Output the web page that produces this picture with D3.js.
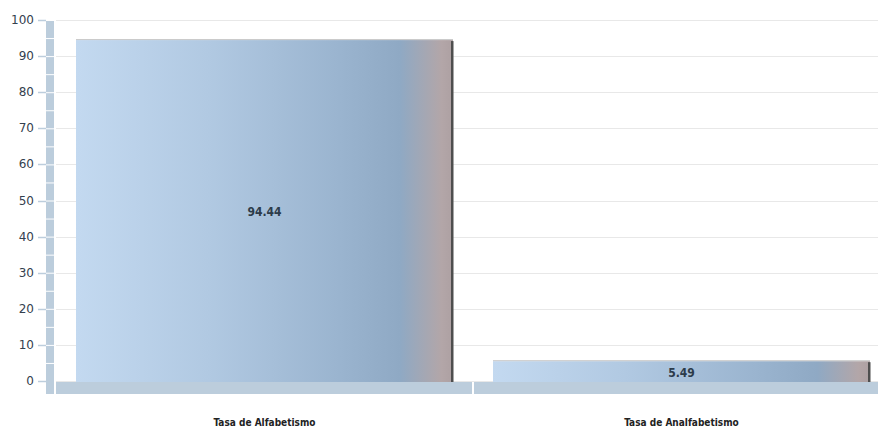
<!DOCTYPE html>
<html>
<head>
<meta charset="utf-8">
<script src="https://cdn.jsdelivr.net/npm/d3@7"></script>
<style>
  body { margin: 0; background: #fff; }
  svg { display: block; }
</style>
</head>
<body>
<svg width="878" height="430"></svg>
<script>
// chart data
const categories = ["Tasa de Alfabetismo", "Tasa de Analfabetismo"];
const values = [94.44, 5.49];
const yTicks = [0, 10, 20, 30, 40, 50, 60, 70, 80, 90, 100];

const svg = d3.select("svg");
const width = 878, height = 430;

const y = d3.scaleLinear().domain([0, 100]).range([381, 20]);
const x = d3.scaleBand().domain(categories).range([56, 890]).paddingInner(0).paddingOuter(0);
const barPad = 20;

const defs = svg.append("defs");
const grad = defs.append("linearGradient").attr("id", "barGrad");
[[0, "#c3d9f0"], [0.35, "#b1c9e2"], [0.7, "#9ab4cf"], [0.86, "#8fa9c4"], [0.97, "#b3a6a8"], [1, "#ada0a2"]]
  .forEach(s => grad.append("stop").attr("offset", s[0]).attr("stop-color", s[1]));

// gridlines
svg.append("g").selectAll("line").data(yTicks).join("line")
  .attr("x1", 56).attr("x2", width)
  .attr("y1", d => Math.round(y(d)) + 0.5).attr("y2", d => Math.round(y(d)) + 0.5)
  .attr("stroke", "#e8e8e8").attr("stroke-width", 1);

// wall, split into segments every 5 units
const segs = d3.range(0, 100, 5);
svg.append("g").selectAll("rect").data(segs).join("rect")
  .attr("x", 46).attr("width", 8)
  .attr("y", d => y(d + 5) + 1)
  .attr("height", d => (d === 0 ? 394 : y(d)) - y(d + 5) - 1)
  .attr("fill", "#bccddc");

// floor, one slab per category
svg.append("g").selectAll("rect").data(categories).join("rect")
  .attr("x", (d, i) => i === 0 ? 56 : x(d) + 1)
  .attr("width", (d, i) => i === 0 ? x(d) + x.bandwidth() - 56 - 1 : x.bandwidth())
  .attr("y", 382).attr("height", 12)
  .attr("fill", "#bccddc");

// y axis ticks and labels
const yAxis = svg.append("g");
yAxis.selectAll("line").data(yTicks).join("line")
  .attr("x1", 38).attr("x2", 46)
  .attr("y1", d => Math.round(y(d)) + 0.5).attr("y2", d => Math.round(y(d)) + 0.5)
  .attr("stroke", "#bccddc").attr("stroke-width", 1.5);
yAxis.selectAll("text").data(yTicks).join("text")
  .attr("x", 34).attr("y", d => y(d) + 4)
  .attr("text-anchor", "end")
  .attr("font-family", "DejaVu Sans, sans-serif")
  .attr("font-size", 12)
  .attr("fill", "#34404e")
  .text(d => d);

// bars
const bars = svg.append("g").selectAll("g").data(values).join("g");
bars.append("rect")
  .attr("x", (d, i) => x(categories[i]) + barPad)
  .attr("y", d => y(d))
  .attr("width", x.bandwidth() - 2 * barPad)
  .attr("height", d => 382 - y(d))
  .attr("fill", "url(#barGrad)");
// top edge shade
bars.append("rect")
  .attr("x", (d, i) => x(categories[i]) + barPad)
  .attr("y", d => y(d) - 1)
  .attr("width", x.bandwidth() - 2 * barPad)
  .attr("height", 1)
  .attr("fill", "#c8c8c8");
// right edge shadow
bars.append("rect")
  .attr("x", (d, i) => x(categories[i]) + x.bandwidth() - barPad - 2)
  .attr("y", d => y(d) + 1)
  .attr("width", 2.5)
  .attr("height", d => 382 - y(d) - 1)
  .attr("fill", "#4e4e4e");

// value labels
bars.append("text")
  .attr("x", (d, i) => x(categories[i]) + x.bandwidth() / 2)
  .attr("y", d => (y(d) + 382) / 2 + 5)
  .attr("text-anchor", "middle")
  .attr("font-family", "DejaVu Sans Condensed, DejaVu Sans, sans-serif")
  .attr("font-weight", "bold")
  .attr("font-size", 12)
  .attr("fill", "#2c3b4a")
  .text(d => d.toFixed(2));

// category labels
svg.append("g").selectAll("text").data(categories).join("text")
  .attr("x", d => x(d) + x.bandwidth() / 2)
  .attr("y", 426)
  .attr("text-anchor", "middle")
  .attr("font-family", "DejaVu Sans Condensed, DejaVu Sans, sans-serif")
  .attr("font-weight", "bold")
  .attr("font-size", 10)
  .attr("fill", "#222")
  .text(d => d);
</script>
</body>
</html>
